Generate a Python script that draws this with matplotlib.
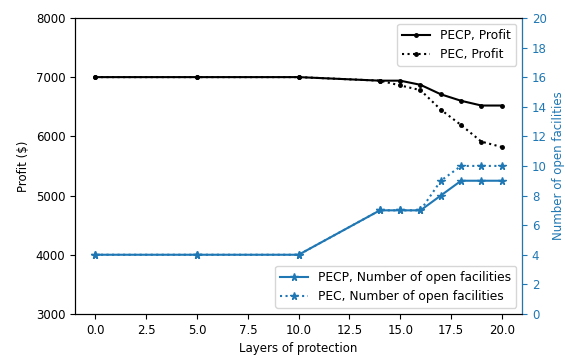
import matplotlib
matplotlib.use("Agg")
import matplotlib.pyplot as plt

layers = [0, 5, 10, 14, 15, 16, 17, 18, 19, 20]
profit_pecp = [7000, 7000, 7000, 6940, 6940, 6870, 6710, 6600, 6520, 6520]
profit_pec = [7000, 7000, 7000, 6940, 6860, 6780, 6450, 6190, 5910, 5820]
fac_pecp = [4, 4, 4, 7, 7, 7, 8, 9, 9, 9]
fac_pec = [4, 4, 4, 7, 7, 7, 9, 10, 10, 10]

plt.rcParams['font.size'] = 8.5
fig, ax = plt.subplots(figsize=(5.65, 3.58), dpi=100)
fig.subplots_adjust(left=0.133, right=0.924, top=0.95, bottom=0.123)

ax.plot(layers, profit_pecp, '.-', color='black', markersize=5, label='PECP, Profit')
ax.plot(layers, profit_pec, '.:', color='black', markersize=5, label='PEC, Profit')
ax.set_ylim(3000, 8000)
ax.set_xlabel('Layers of protection')
ax.set_ylabel('Profit ($)')
ax.legend(loc='upper right', fontsize=8.8, handlelength=2.3)

blue = 'tab:blue'
ax2 = ax.twinx()
ax2.plot(layers, fac_pecp, '*-', color=blue, markersize=5.5, label='PECP, Number of open facilities')
ax2.plot(layers, fac_pec, '*:', color=blue, markersize=5.5, label='PEC, Number of open facilities')
ax2.set_ylim(0, 20)
ax2.set_yticks(range(0, 21, 2))
ax2.set_ylabel('Number of open facilities', color=blue)
ax2.tick_params(axis='y', labelcolor=blue, color=blue)
ax2.spines['right'].set_color(blue)
ax2.legend(loc='lower right', fontsize=8.8, handlelength=2.3)

fig.savefig('out.png')
